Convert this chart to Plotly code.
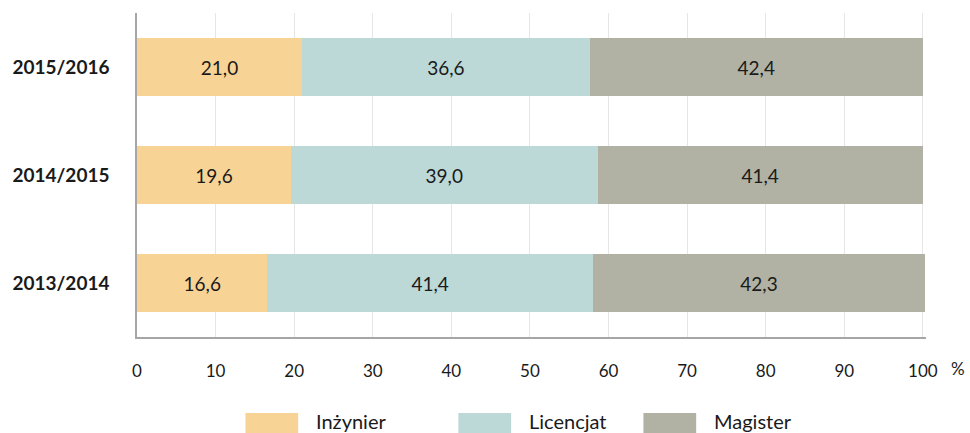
import plotly.graph_objects as go

years = ["2013/2014", "2014/2015", "2015/2016"]
series_names = ["Inżynier", "Licencjat", "Magister"]
inzynier = [16.6, 19.6, 21.0]
licencjat = [41.4, 39.0, 36.6]
magister = [42.3, 41.4, 42.4]
x_ticks = [0, 10, 20, 30, 40, 50, 60, 70, 80, 90, 100]

colors = ["#F7D496", "#BCD8D7", "#B1B2A4"]
FONT = "Lato"

fig = go.Figure()
for name, vals, col in zip(series_names, [inzynier, licencjat, magister], colors):
    fig.add_trace(go.Bar(
        y=years, x=vals, name=name, orientation="h",
        marker=dict(color=col, line=dict(width=0)),
        texttemplate="%{x:.1f}", textposition="inside", insidetextanchor="middle",
        textfont=dict(family=FONT, size=19, color="#1a1a1a"),
        showlegend=False, width=0.53,
    ))

# custom legend (wide swatches like the original)
L, R, T, B = 133, 44, 13, 96
W = 970 - L - R
H = 433 - T - B
def px(x):
    return (x - L) / W
def py(y):
    return (433 - B - y) / H

sw_x = [242, 456, 642]
for name, col, sx in zip(series_names, colors, sw_x):
    fig.add_shape(type="rect", xref="paper", yref="paper",
                  x0=px(sx), x1=px(sx + 53), y0=py(433), y1=py(413),
                  fillcolor=col, line=dict(width=0))
    fig.add_annotation(xref="paper", yref="paper", x=px(sx + 69), y=py(421),
                       text=name, showarrow=False, xanchor="left", yanchor="middle",
                       font=dict(family=FONT, size=20, color="#1a1a1a"))

fig.add_annotation(xref="paper", yref="paper", x=px(958), y=py(368), text="%",
                   showarrow=False, xanchor="center", yanchor="middle",
                   font=dict(family=FONT, size=17, color="#1a1a1a"))

fig.update_layout(
    barmode="stack", width=970, height=433,
    margin=dict(l=L, r=R, t=T, b=B),
    plot_bgcolor="white", paper_bgcolor="white",
    separators=",.",
    font=dict(family=FONT, color="#1a1a1a"),
    bargap=0.47,
)
fig.update_xaxes(range=[0, 100.4], tickvals=x_ticks, showgrid=True, gridcolor="#E6E6E6",
                 gridwidth=1, showline=True, linecolor="#A6A6A6", linewidth=1.5,
                 zeroline=False, ticks="", tickfont=dict(family=FONT, size=17, color="#1a1a1a"),
                 ticklabelstandoff=18)
fig.update_yaxes(range=[-0.5, 2.5], showgrid=False, showline=True, linecolor="#A6A6A6",
                 linewidth=1.5, ticks="", tickfont=dict(family=FONT, size=19, color="#1a1a1a", weight="bold"),
                 ticklabelstandoff=22)

fig.write_html("out.html", config={"displayModeBar": False},
               post_script="document.body.style.margin='0';document.body.style.overflow='hidden';")
